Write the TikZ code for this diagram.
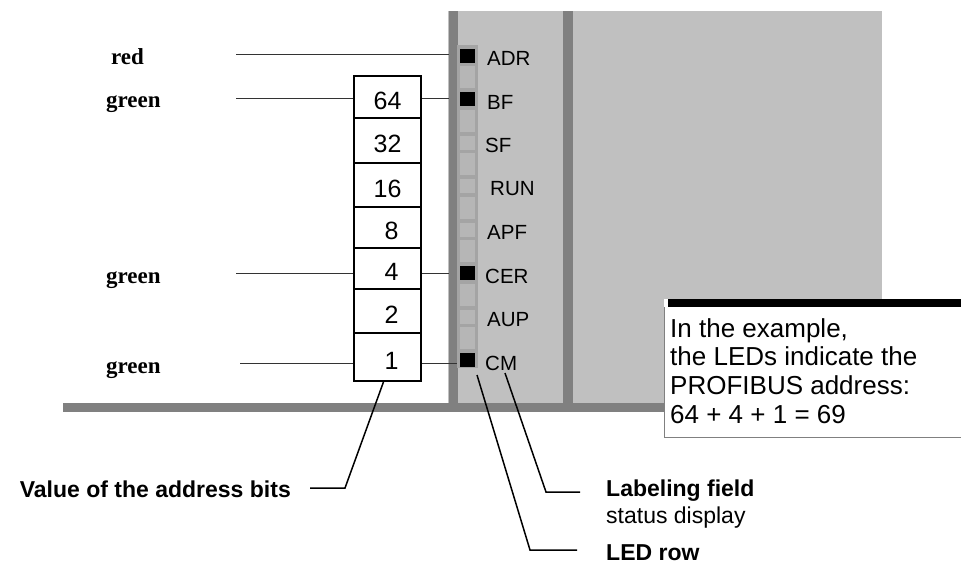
\documentclass[tikz,border=0pt]{standalone}
\usepackage{fontspec}
\setmainfont{Liberation Sans}
\newfontfamily\tagfont{Liberation Serif}
\usetikzlibrary{positioning,calc}
\definecolor{panelgray}{RGB}{192,192,192}
\definecolor{railgray}{RGB}{128,128,128}
\definecolor{stripgray}{RGB}{164,164,164}
\definecolor{ledoff}{RGB}{182,182,182}
\definecolor{ledon}{RGB}{0,0,0}

\begin{document}
\begin{tikzpicture}[x=1pt, y=-1pt,
    cell/.style={rectangle, draw, line width=1.8pt, fill=white, minimum width=67pt, inner sep=0pt, font=\fontsize{25}{25}\selectfont},
    led/.style={rectangle, inner sep=0pt, minimum width=15pt, minimum height=14pt},
    ledtext/.style={anchor=west, inner sep=0pt, font=\fontsize{20.5}{20.5}\selectfont},
    tag/.style={anchor=base west, inner sep=0pt, font=\tagfont\bfseries\fontsize{23}{23}\selectfont},
    caption/.style={inner sep=0pt, font=\bfseries\fontsize{23}{23}\selectfont},
    lead/.style={line width=1.5pt},
    tick/.style={line width=0.9pt, black!80}
]
\useasboundingbox (0,0) rectangle (961,563);

% Module
\fill[panelgray] (448,11) rectangle (882,403);
\fill[railgray] (63,403) rectangle (700,412);
\node (rail) [fill=railgray, inner sep=0pt, minimum width=9pt, minimum height=401pt, anchor=north west] at (449,11) {};
\fill[railgray] (563,11) rectangle (573,403);

% LED row
\node (strip) [fill=stripgray, inner sep=0pt, minimum width=21pt, minimum height=323pt, anchor=north west] at (457,45) {};
\foreach \i in {0,...,6}
    \fill[ledoff] (460,{66+43.5*\i}) rectangle (475,{88+43.5*\i});
\foreach \i/\name/\state/\tx in {0/ADR/on/487, 1/BF/on/487, 2/SF/off/485, 3/RUN/off/490, 4/APF/off/487, 5/CER/on/485, 6/AUP/off/487, 7/CM/on/485} {
    \node (led\i) [led, fill=led\state] at (467.5,{55.5+43.5*\i}) {};
    \node (lbl\i) [ledtext] at (\tx,{58.5+43.5*\i}) {\name};
}

% Address bits
\foreach \val/\ya/\yb/\dx in {64/76/118/0, 32/118/163/0, 16/163/207/0, 8/207/248/8, 4/248/289/8, 2/289/333/8, 1/333/381/8}
    \node (c\val) [cell, minimum height={\yb pt-\ya pt}] at (387.5,{(\ya+\yb)/2}) {\hspace*{\dx pt}\raisebox{-12pt}[0pt][0pt]{\val}};

% Colour tags
\node (red) [tag] at (111,64) {red};
\node (green1) [tag] at (106,107) {green};
\node (green2) [tag] at (106,283) {green};
\node (green3) [tag] at (106,373) {green};
\coordinate (t-adr) at (236,54);
\coordinate (t-bf) at (236,98);
\coordinate (t-cer) at (236,273);
\coordinate (t-cm) at (240,363);
\draw[tick] (t-adr) -- (t-adr -| rail.west);
\draw[tick] (t-bf) -- (t-bf -| c64.west);
\draw[tick] (c64.east |- t-bf) -- (t-bf -| rail.west);
\draw[tick] (t-cer) -- (t-cer -| c4.west);
\draw[tick] (c4.east |- t-cer) -- (t-cer -| rail.west);
\draw[tick] (t-cm) -- (t-cm -| c1.west);
\draw[tick] (c1.east |- t-cm) -- (t-cm -| strip.west);

% Captions
\node (bits) [caption, anchor=base east] at (291,497) {Value of the address bits};
\node (field) [caption, anchor=base west] at (606,496) {Labeling field};
\node (status) [inner sep=0pt, anchor=base west, font=\fontsize{23}{23}\selectfont] at (606,523) {status display};
\node (ledrow) [caption, anchor=base west] at (606,560) {LED row};
\coordinate (bits-a) at (310,488);
\coordinate (bits-b) at (345,488);
\draw[lead] (bits-a) -- (bits-b) -- ($(c1.south)+(-4,0)$);
\coordinate (field-tip) at (505,373);
\coordinate (field-a) at (546,492);
\draw[lead] (field-tip) -- (field-a) -- (580,492);
\coordinate (row-tip) at (477,375);
\coordinate (row-a) at (530,550);
\draw[lead] (row-tip) -- (row-a) -- (577,550);

% Note
\fill[white] (664,299) rectangle (961,437);
\draw[railgray, line width=1pt] (664,307) -- (664,437) -- (961,437);
\fill[black] (668,299) rectangle (961,307);
\node (note) [inner sep=0pt, anchor=north west, align=left, font=\fontsize{26}{28.7}\selectfont] at (670,318)
    {In the example,\\the LEDs indicate the\\PROFIBUS address:\\64 + 4 + 1 = 69};

\end{tikzpicture}
\end{document}
